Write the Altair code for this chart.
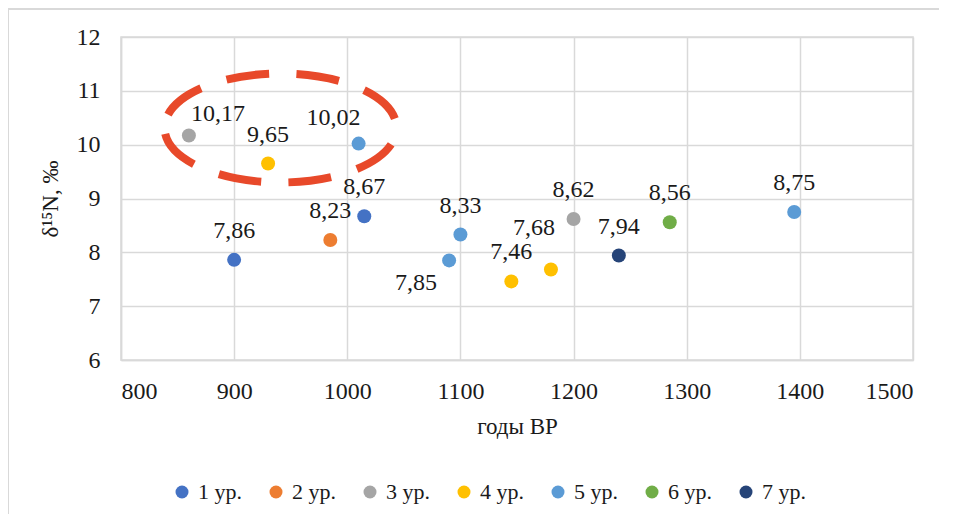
import altair as alt
import pandas as pd

# ---- data ----
years = [900, 1015, 985, 860, 1200, 930, 1145, 1180, 1010, 1100, 1090, 1395, 1285, 1240]
d15n = [7.86, 8.67, 8.23, 10.17, 8.62, 9.65, 7.46, 7.68, 10.02, 8.33, 7.85, 8.75, 8.56, 7.94]
levels = ["1 ур.", "1 ур.", "2 ур.", "3 ур.", "3 ур.", "4 ур.", "4 ур.", "4 ур.",
          "5 ур.", "5 ур.", "5 ур.", "5 ур.", "6 ур.", "7 ур."]
labels = ["7,86", "8,67", "8,23", "10,17", "8,62", "9,65", "7,46", "7,68",
          "10,02", "8,33", "7,85", "8,75", "8,56", "7,94"]
label_pos = ["top", "top", "top", "topright", "top", "top", "top", "upleft",
             "topleft", "top", "belowleft", "top", "top", "top"]

level_order = ["1 ур.", "2 ур.", "3 ур.", "4 ур.", "5 ур.", "6 ур.", "7 ур."]
level_colors = ["#4472C4", "#ED7D31", "#A5A5A5", "#FFC000", "#5B9BD5", "#70AD47", "#264478"]

x_ticks = [800, 900, 1000, 1100, 1200, 1300, 1400, 1500]
y_ticks = [6, 7, 8, 9, 10, 11, 12]

# highlight ellipse (annotation) center in data units
ellipse_x = [941]
ellipse_y = [10.31]

df = pd.DataFrame({"year": years, "d15n": d15n, "level": levels,
                   "label": labels, "pos": label_pos})
ell = pd.DataFrame({"year": ellipse_x, "d15n": ellipse_y})

FONT = "Liberation Serif"
W, H = 792, 323

xs = alt.Scale(domain=[800, 1500], nice=False, zero=False)
ys = alt.Scale(domain=[6, 12], nice=False, zero=False)

x_enc = alt.X("year:Q", scale=xs, axis=alt.Axis(
    values=x_ticks, title="годы ВР", ticks=False, labelPadding=19,
    titlePadding=12, format="d"))
y_enc = alt.Y("d15n:Q", scale=ys, axis=alt.Axis(
    values=y_ticks, title="δ¹⁵N, ‰", ticks=False, labelPadding=21,
    titlePadding=14, format="d"))

border = alt.Chart(pd.DataFrame({"a": [0]})).mark_rect(
    fill=None, stroke="#d9d9d9", strokeWidth=2
).encode(x=alt.value(-113), x2=alt.value(W + 200),
         y=alt.value(-28), y2=alt.value(H + 300))

points = alt.Chart(df).mark_point(filled=True, opacity=1, size=196, shape="circle").encode(
    x=x_enc, y=y_enc,
    color=alt.Color("level:N", scale=alt.Scale(domain=level_order, range=level_colors),
                    legend=alt.Legend(title=None, orient="none", direction="horizontal",
                                      legendX=50, legendY=444, symbolSize=169,
                                      symbolType="circle", labelFontSize=22,
                                      labelFont=FONT, labelColor="#1a1a1a",
                                      labelOffset=5, columnPadding=23, padding=0))
)

offsets = {
    "top": (0, -29),
    "topright": (29, -22),
    "topleft": (-25, -26),
    "belowleft": (-33, 23),
    "upleft": (-17, -42),
}
text_layers = []
for p, (dx, dy) in offsets.items():
    text_layers.append(
        alt.Chart(df).transform_filter(alt.datum.pos == p).mark_text(
            font=FONT, fontSize=24, color="#1a1a1a", dx=dx, dy=dy, baseline="middle", align="center"
        ).encode(x=alt.X("year:Q", scale=xs), y=alt.Y("d15n:Q", scale=ys), text="label:N")
    )

ellipse = alt.Chart(ell).mark_point(
    shape="M -1 0 A 1 0.47 0 1 1 1 0 A 1 0.47 0 1 1 -1 0 Z",
    size=232 * 232, filled=False, stroke="#E8492A", strokeWidth=8,
    strokeDash=[43, 27], strokeDashOffset=56, opacity=1
).encode(x=alt.X("year:Q", scale=xs), y=alt.Y("d15n:Q", scale=ys))

chart = alt.layer(border, points, *text_layers, ellipse).properties(
    width=W, height=H,
    autosize=alt.AutoSizeParams(type="none"),
    padding={"left": 113, "top": 29, "right": 26, "bottom": 154},
).configure_view(stroke="#d9d9d9", strokeWidth=1.5).configure_axis(
    grid=True, gridColor="#d9d9d9", gridWidth=1.5, domainColor="#d9d9d9",
    domainWidth=1.5, labelFont=FONT, labelFontSize=24, labelColor="#1a1a1a",
    titleFont=FONT, titleFontSize=23, titleFontWeight="normal", titleColor="#1a1a1a"
)

chart.save("out.html", embed_options={"renderer": "svg", "actions": False})
